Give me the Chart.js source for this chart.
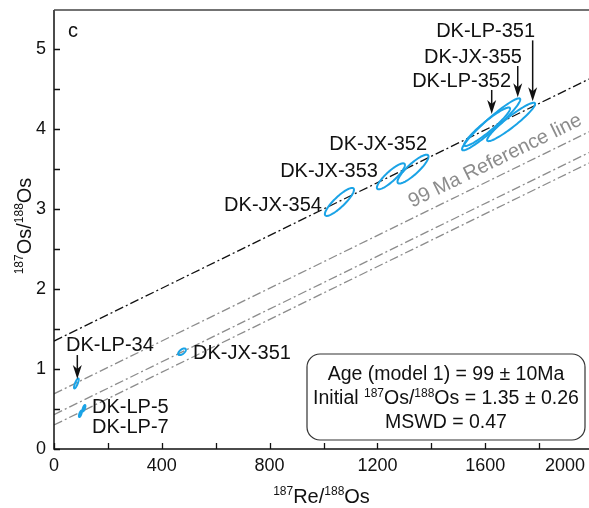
<!DOCTYPE html>
<html lang="en">
<head>
<meta charset="UTF-8">
<title>Re-Os isochron</title>
<script src="https://cdn.jsdelivr.net/npm/chart.js"></script>
<style>
  body { margin: 0; background: #fff; }
  .wrap { width: 589px; height: 508px; }
</style>
</head>
<body>
<div class="wrap"><canvas id="isochron" width="589" height="508"></canvas></div>
<script>
// samples: 187Re/188Os, 187Os/188Os, 2s errors and error correlation
const sampleNames = ['DK-LP-34', 'DK-LP-5', 'DK-LP-7', 'DK-JX-351', 'DK-JX-354', 'DK-JX-353', 'DK-JX-352', 'DK-LP-352', 'DK-JX-355', 'DK-LP-351'];
const reOs  = [83, 111, 98, 475, 1059, 1250, 1332, 1607, 1622, 1696];
const osOs  = [0.82, 0.51, 0.44, 1.216, 3.09, 3.41, 3.50, 4.03, 4.06, 4.09];
const reErr = [8.7, 5.5, 5.5, 14.3, 54, 52, 57.5, 85, 108, 89];
const osErr = [0.0625, 0.04, 0.04, 0.042, 0.175, 0.1625, 0.18, 0.24, 0.325, 0.24];
const rho   = [0.8, 0.7, 0.7, 0.6, 0.87, 0.87, 0.87, 0.94, 0.955, 0.94];

// isochron result
const ageMa = 99;
const ageErr = 10;
const initialOs = 1.35;
const initialErr = 0.26;
const mswd = 0.47;
const lambdaRe = 1.666e-11;
// 99 Ma reference lines through the low-Re samples
const refIntercepts = [0.69, 0.43, 0.30];

// axes
const xMax = 1985;
const yMax = 5.49;
const xTicks = [0, 200, 400, 600, 800, 1000, 1200, 1400, 1600, 1800];
const xTickLabels = ['0', '', '400', '', '800', '', '1200', '', '1600', ''];
const yTicks = [0, 0.5, 1, 1.5, 2, 2.5, 3, 3.5, 4, 4.5, 5];
const yTickLabels = ['0', '', '1', '', '2', '', '3', '', '4', '', '5'];
const xEdgeLabel = '2000';

const FONT = '"Liberation Sans", Arial, Helvetica, sans-serif';
const ellipseColor = '#1aa3e6';
const slope = Math.expm1(lambdaRe * ageMa * 1e6);

// sample labels: [text, x, y, align]
const labels = [
  ['DK-LP-351', 1785, 5.15, 'right'],
  ['DK-JX-355', 1736, 4.825, 'right'],
  ['DK-LP-352', 1696, 4.525, 'right'],
  ['DK-JX-352', 1384, 3.7375, 'right'],
  ['DK-JX-353', 1202, 3.40, 'right'],
  ['DK-JX-354', 994, 2.975, 'right'],
  ['DK-JX-351', 516, 1.125, 'left'],
  ['DK-LP-34', 44.5, 1.225, 'left'],
  ['DK-LP-5', 141, 0.45, 'left'],
  ['DK-LP-7', 141, 0.20, 'left']
];
// arrows: [x, yFrom, yTo]
const arrows = [
  [1776, 5.11, 4.35],
  [1720.6, 4.79, 4.40],
  [1624, 4.49, 4.19],
  [86.5, 1.175, 0.875]
];

function lineFrom(b) {
  return [{x: 0, y: b}, {x: xMax, y: b + slope * xMax}];
}

function font(size) { return size + 'px ' + FONT; }

// draws text with superscript runs, parts = [[text, isSup], ...]
function richText(ctx, parts, x, y, size, align) {
  const supSize = Math.round(size * 0.62);
  let w = 0;
  parts.forEach(([t, sup]) => { ctx.font = font(sup ? supSize : size); w += ctx.measureText(t).width; });
  let cx = align === 'center' ? x - w / 2 : x;
  ctx.textAlign = 'left';
  ctx.textBaseline = 'alphabetic';
  parts.forEach(([t, sup]) => {
    ctx.font = font(sup ? supSize : size);
    ctx.fillText(t, cx, sup ? y - size * 0.38 : y);
    cx += ctx.measureText(t).width;
  });
}

const overlay = {
  id: 'overlay',
  afterDatasetsDraw(chart) {
    const {ctx, chartArea: a, scales: {x, y}} = chart;
    ctx.save();
    ctx.beginPath();
    ctx.rect(a.left, a.top, a.right - a.left, a.bottom - a.top);
    ctx.clip();
    ctx.strokeStyle = ellipseColor;
    ctx.lineWidth = 2;
    for (let i = 0; i < reOs.length; i++) {
      const s = Math.sqrt(1 - rho[i] * rho[i]);
      ctx.beginPath();
      for (let k = 0; k <= 90; k++) {
        const t = k / 90 * 2 * Math.PI;
        const px = x.getPixelForValue(reOs[i] + reErr[i] * Math.cos(t));
        const py = y.getPixelForValue(osOs[i] + osErr[i] * (rho[i] * Math.cos(t) + s * Math.sin(t)));
        if (k) ctx.lineTo(px, py); else ctx.moveTo(px, py);
      }
      ctx.closePath();
      ctx.stroke();
    }
    ctx.restore();
  },
  afterDraw(chart) {
    const {ctx, chartArea: a, scales: {x, y}} = chart;
    ctx.save();

    // frame and inward ticks
    ctx.strokeStyle = '#111';
    ctx.lineWidth = 1.5;
    ctx.beginPath();
    ctx.moveTo(a.left, a.top); ctx.lineTo(a.left, a.bottom); ctx.lineTo(a.right, a.bottom);
    ctx.stroke();
    ctx.strokeStyle = '#444';
    ctx.beginPath();
    ctx.moveTo(a.left, a.top); ctx.lineTo(a.right, a.top);
    ctx.stroke();
    ctx.strokeStyle = '#111';
    ctx.lineWidth = 1.3;
    ctx.beginPath();
    x.ticks.forEach(t => {
      const px = Math.round(x.getPixelForValue(t.value)) + 0.5;
      ctx.moveTo(px, a.bottom); ctx.lineTo(px, a.bottom - 6);
    });
    y.ticks.forEach(t => {
      const py = Math.round(y.getPixelForValue(t.value)) + 0.5;
      ctx.moveTo(a.left, py); ctx.lineTo(a.left + 6, py);
    });
    ctx.stroke();

    // last x label sits inside the canvas edge
    ctx.fillStyle = '#111';
    ctx.font = font(18);
    ctx.textAlign = 'right';
    ctx.textBaseline = 'middle';
    ctx.fillText(xEdgeLabel, chart.width - 4, x.top + x.options.ticks.padding + 18 * 1.2 / 2);

    // panel letter
    ctx.font = font(20);
    ctx.textAlign = 'left';
    ctx.textBaseline = 'alphabetic';
    ctx.fillText('c', a.left + 14, a.top + 27);

    // sample labels
    labels.forEach(([t, vx, vy, align]) => {
      ctx.textAlign = align;
      ctx.fillText(t, x.getPixelForValue(vx), y.getPixelForValue(vy));
    });

    // arrows
    ctx.strokeStyle = '#111';
    ctx.lineWidth = 1.5;
    arrows.forEach(([vx, y0, y1]) => {
      const px = x.getPixelForValue(vx);
      const p0 = y.getPixelForValue(y0), p1 = y.getPixelForValue(y1);
      ctx.beginPath();
      ctx.moveTo(px, p0); ctx.lineTo(px, p1 - 8);
      ctx.stroke();
      ctx.beginPath();
      ctx.moveTo(px, p1);
      ctx.lineTo(px - 4.5, p1 - 14);
      ctx.lineTo(px, p1 - 10);
      ctx.lineTo(px + 4.5, p1 - 14);
      ctx.closePath();
      ctx.fill();
    });

    // reference line caption, rotated along the top reference line
    const rx = 1345, ry = refIntercepts[0] + slope * rx;
    const ang = Math.atan2(y.getPixelForValue(slope * 1000) - y.getPixelForValue(0),
                           x.getPixelForValue(1000) - x.getPixelForValue(0));
    ctx.save();
    ctx.translate(x.getPixelForValue(rx), y.getPixelForValue(ry));
    ctx.rotate(ang);
    ctx.fillStyle = '#8c8c8c';
    ctx.font = font(20);
    ctx.textAlign = 'left';
    ctx.fillText(ageMa + ' Ma Reference line', 0, -9.5);
    ctx.restore();

    // result box
    const bw = 278, bh = 86;
    const bx = a.right - 4 - bw, by = a.bottom - 9 - bh;
    ctx.beginPath();
    ctx.roundRect(bx, by, bw, bh, 13);
    ctx.fillStyle = '#fff';
    ctx.fill();
    ctx.strokeStyle = '#333';
    ctx.lineWidth = 1.2;
    ctx.stroke();
    ctx.fillStyle = '#111';
    const bc = bx + bw / 2;
    richText(ctx, [['Age (model 1) = ' + ageMa + ' \u00b1 ' + ageErr + 'Ma', false]], bc, by + 26, 19.5, 'center');
    richText(ctx, [['Initial ', false], ['187', true], ['Os/', false], ['188', true],
                   ['Os = ' + initialOs.toFixed(2) + ' \u00b1 ' + initialErr.toFixed(2), false]], bc, by + 50, 19.5, 'center');
    richText(ctx, [['MSWD = ' + mswd, false]], bc, by + 74, 19.5, 'center');

    // axis titles
    richText(ctx, [['187', true], ['Re/', false], ['188', true], ['Os', false]], (a.left + a.right) / 2, 503, 20, 'center');
    ctx.save();
    ctx.translate(31, 226);
    ctx.rotate(-Math.PI / 2);
    richText(ctx, [['187', true], ['Os/', false], ['188', true], ['Os', false]], 0, 0, 20, 'center');
    ctx.restore();

    ctx.restore();
  }
};

const lineStyle = {showLine: true, pointRadius: 0, borderWidth: 1.3, borderDash: [9, 3, 2, 3], fill: false};

new Chart(document.getElementById('isochron'), {
  type: 'scatter',
  data: {
    datasets: [
      Object.assign({data: lineFrom(initialOs), borderColor: '#111'}, lineStyle),
      ...refIntercepts.map(b => Object.assign({data: lineFrom(b), borderColor: '#8c8c8c'}, lineStyle))
    ]
  },
  options: {
    responsive: false,
    animation: false,
    events: [],
    layout: {padding: {top: 10, right: 0, left: 0, bottom: 0}},
    plugins: {legend: {display: false}, tooltip: {enabled: false}},
    scales: {
      x: {
        type: 'linear', min: 0, max: xMax,
        grid: {drawOnChartArea: false, drawTicks: false},
        border: {display: false},
        ticks: {
          padding: 6, color: '#111', maxRotation: 0, autoSkip: false,
          font: {family: FONT, size: 18},
          callback: (v, i) => xTickLabels[i]
        },
        afterBuildTicks(s) { s.ticks = xTicks.map(v => ({value: v})); },
        afterFit(s) { s.height = 59; s.paddingLeft = 0; s.paddingRight = 0; }
      },
      y: {
        type: 'linear', min: 0, max: yMax,
        grid: {drawOnChartArea: false, drawTicks: false},
        border: {display: false},
        ticks: {
          padding: 8, color: '#111', autoSkip: false,
          font: {family: FONT, size: 18},
          callback: (v, i) => yTickLabels[i]
        },
        afterBuildTicks(s) { s.ticks = yTicks.map(v => ({value: v})); },
        afterFit(s) { s.width = 54; s.paddingTop = 0; s.paddingBottom = 0; }
      }
    }
  },
  plugins: [overlay]
});
</script>
</body>
</html>
